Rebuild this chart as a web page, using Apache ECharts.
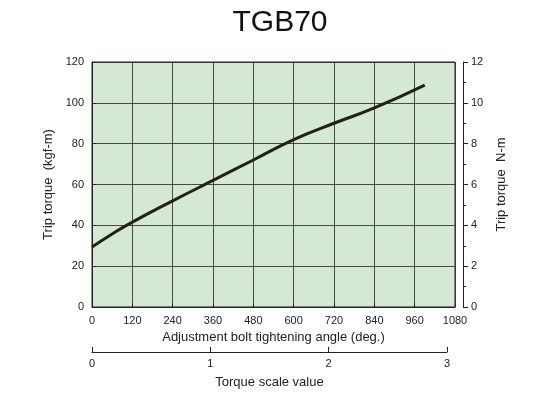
<!DOCTYPE html>
<html>
<head>
<meta charset="utf-8">
<script src="https://cdn.jsdelivr.net/npm/echarts@6/dist/echarts.min.js"></script>
<style>html,body{margin:0;padding:0;background:#fff}#c{width:560px;height:420px}</style>
</head>
<body>
<div id="c"></div>
<script>
const angles = [0, 60, 120, 240, 360, 480, 600, 720, 840, 990];
const torque = [29.4, 35.8, 41.6, 52, 62, 72, 82, 90, 97.5, 108.7];
const scaleTicks = [0, 1, 2, 3];

const chart = echarts.init(document.getElementById('c'));
const font = 'Liberation Sans';
const axisName = { fontFamily: font, fontSize: 13, color: '#222' };
const axisLbl = { fontFamily: font, fontSize: 11, color: '#222' };
const lineStyle = { color: '#222', width: 1 };

chart.setOption({
  animation: false,
  title: { text: 'TGB70', left: 'center', top: 3,
    textStyle: { fontFamily: font, fontSize: 30, fontWeight: 'normal', color: '#111' } },
  grid: [
    { left: 92, right: 105, top: 62, bottom: 113, show: true, backgroundColor: '#d4e8d3', borderColor: '#222', borderWidth: 1 },
    { left: 92, right: 113, top: 352, height: 0 }
  ],
  xAxis: [
    { gridIndex: 0, type: 'value', min: 0, max: 1080, interval: 120,
      name: 'Adjustment bolt tightening angle (deg.)', nameLocation: 'middle', nameGap: 22, nameTextStyle: axisName,
      axisLine: { lineStyle }, axisTick: { show: true, length: 4, inside: true, lineStyle },
      axisLabel: { ...axisLbl, formatter: v => String(v) },
      splitLine: { show: true, lineStyle: { color: '#222', width: 0.8 } } },
    { gridIndex: 1, type: 'value', min: 0, max: 3, interval: 1,
      name: 'Torque scale value', nameLocation: 'middle', nameGap: 24, nameTextStyle: axisName,
      axisLine: { onZero: false, lineStyle }, axisTick: { show: true, length: 5, inside: true, lineStyle },
      minorTick: { show: false }, axisLabel: { ...axisLbl, margin: 6 }, splitLine: { show: false },
      data: scaleTicks }
  ],
  yAxis: [
    { gridIndex: 0, type: 'value', min: 0, max: 120, interval: 20, position: 'left',
      name: 'Trip torque  (kgf-m)', nameLocation: 'middle', nameGap: 30, nameTextStyle: axisName,
      axisLine: { show: true, lineStyle }, axisTick: { show: true, length: 4, inside: true, lineStyle }, axisLabel: axisLbl,
      splitLine: { show: true, lineStyle: { color: '#222', width: 0.8 } } },
    { gridIndex: 0, type: 'value', min: 0, max: 12, interval: 2, position: 'right', offset: 8,
      name: 'Trip torque  N-m', nameLocation: 'middle', nameGap: 32, nameTextStyle: axisName,
      axisLine: { show: true, lineStyle }, axisTick: { show: true, length: 5, lineStyle },
      minorTick: { show: true, splitNumber: 2, length: 3, lineStyle }, axisLabel: axisLbl, splitLine: { show: false } },
    { gridIndex: 1, type: 'value', show: false }
  ],
  series: [{
    type: 'line', xAxisIndex: 0, yAxisIndex: 0, smooth: true, symbol: 'none',
    lineStyle: { color: '#231f1a', width: 3 },
    data: angles.map((a, i) => [a, torque[i]])
  }]
});
</script>
</body>
</html>
